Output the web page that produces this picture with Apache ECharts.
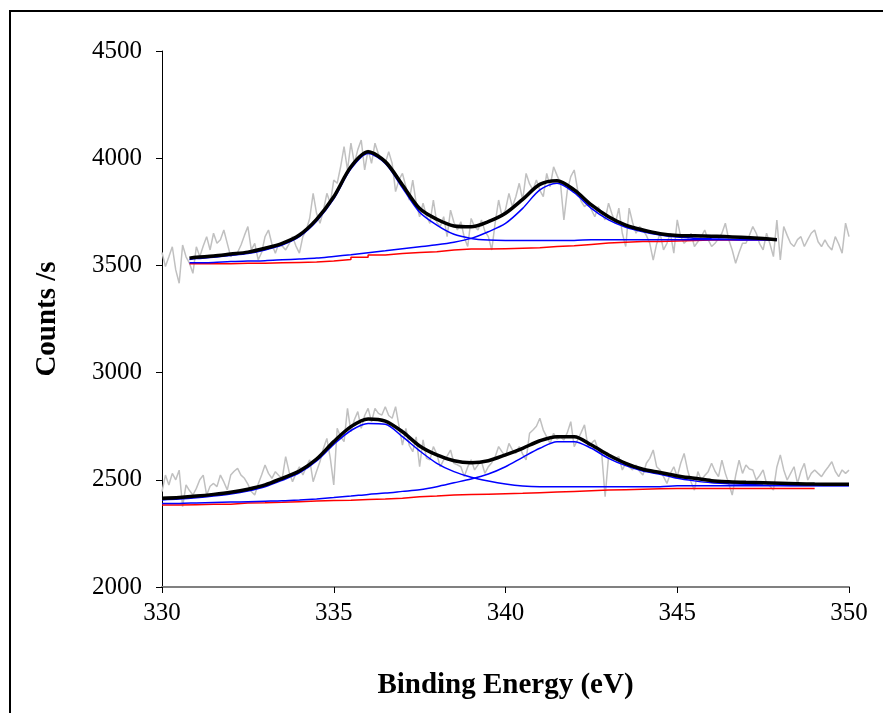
<!DOCTYPE html>
<html>
<head>
<meta charset="utf-8">
<script src="https://cdn.jsdelivr.net/npm/echarts@6/dist/echarts.min.js"></script>
<style>
  html, body { margin: 0; padding: 0; background: #fff; }
  #chart { width: 883px; height: 713px; }
</style>
</head>
<body>
<div id="chart"></div>
<script>
// Binding energy axis ticks (eV) and count axis ticks
const energyTicks = [330, 335, 340, 345, 350];
const countTicks = [2000, 2500, 3000, 3500, 4000, 4500];

// Raw spectra, one channel every 0.1 eV from 330.0 to 350.0 eV
const rawStart = 330.0;
const rawStep = 0.1;
const topRaw = [
  3560,3495,3540,3587,3479,3417,3595,3540,3510,3463,
  3587,3541,3590,3634,3572,3650,3603,3620,3665,3603,
  3541,3557,3560,3595,3640,3681,3572,3603,3526,3560,
  3634,3665,3600,3557,3603,3590,3572,3600,3634,3590,
  3557,3634,3665,3720,3836,3743,3696,3758,3836,3790,
  3898,3883,3960,4054,3945,4070,3976,4040,4085,3945,
  4039,3976,4070,4020,3991,3976,4030,3976,3844,3900,
  3929,3867,3805,3898,3790,3727,3790,3730,3696,3805,
  3700,3681,3727,3634,3758,3700,3665,3704,3630,3588,
  3719,3680,3665,3712,3660,3634,3572,3700,3805,3727,
  3760,3836,3774,3820,3883,3805,3929,3880,3852,3898,
  3850,3821,3929,3867,3960,3920,3883,3712,3850,3914,
  3945,3852,3800,3774,3790,3760,3727,3774,3740,3712,
  3790,3740,3696,3767,3650,3588,3767,3700,3650,3681,
  3665,3640,3603,3525,3600,3650,3572,3603,3650,3557,
  3712,3634,3603,3620,3650,3588,3610,3634,3665,3620,
  3588,3603,3625,3650,3697,3620,3572,3510,3560,3603,
  3603,3640,3681,3650,3600,3572,3650,3600,3541,3712,
  3525,3681,3640,3603,3588,3620,3634,3588,3620,3650,
  3665,3610,3588,3619,3590,3572,3634,3600,3557,3697,
  3634
];
const bottomRaw = [
  2445,2522,2476,2530,2500,2545,2375,2476,2450,2429,
  2460,2500,2522,2429,2470,2483,2468,2522,2490,2453,
  2522,2540,2553,2522,2507,2480,2445,2429,2480,2522,
  2569,2530,2507,2538,2520,2507,2608,2538,2491,2530,
  2561,2522,2560,2593,2491,2540,2585,2647,2693,2600,
  2476,2740,2700,2678,2833,2724,2780,2818,2740,2800,
  2833,2771,2833,2810,2802,2841,2800,2787,2841,2750,
  2662,2740,2660,2631,2700,2561,2686,2600,2593,2655,
  2620,2561,2593,2610,2639,2577,2570,2561,2515,2560,
  2593,2546,2570,2585,2530,2561,2580,2608,2655,2630,
  2608,2670,2640,2624,2655,2620,2593,2717,2732,2750,
  2787,2732,2700,2670,2717,2690,2700,2686,2720,2771,
  2655,2686,2720,2756,2655,2670,2686,2639,2624,2421,
  2608,2593,2600,2608,2546,2577,2560,2546,2569,2540,
  2522,2577,2600,2639,2561,2546,2515,2483,2530,2561,
  2515,2577,2623,2546,2490,2452,2538,2499,2520,2538,
  2577,2540,2515,2592,2530,2483,2429,2520,2592,2530,
  2569,2550,2546,2499,2520,2546,2483,2470,2452,2560,
  2616,2546,2499,2530,2561,2483,2540,2577,2499,2530,
  2546,2530,2515,2540,2561,2584,2540,2515,2546,2530,
  2545
];

// Fitted curves of the upper spectrum
const topFitEnergy = [330.8, 331, 331.5, 332, 332.5, 333, 333.5, 334, 334.5, 335, 335.5, 336,
  336.5, 337, 337.5, 338, 338.5, 339, 339.5, 340, 340.5, 341, 341.5, 342, 342.5, 343, 343.5,
  344, 344.5, 345, 345.5, 346, 346.5, 347, 347.5, 347.9];
const topEnvelope = [3534,3538,3544,3553,3562,3580,3603,3642,3715,3820,3960,4030,3984,3875,3765,
  3715,3684,3680,3704,3743,3808,3878,3895,3852,3782,3727,3688,3665,3648,3640,3638,3636,3634,
  3630,3625,3620];
const topPeak1 = [3528,3532,3538,3546,3555,3572,3595,3634,3706,3810,3950,4022,3975,3862,3748,
  3688,3645,3626,3618,3616,3616,3616,3616,3616,3620,3620,3620,3620,3620,3620,3620,3620,3620,
  3620,3620,3620];
const topPeak2 = [3512,3512,3514,3518,3520,3522,3526,3530,3534,3542,3550,3559,3568,3578,3587,
  3596,3608,3626,3657,3696,3766,3852,3883,3839,3766,3712,3678,3657,3642,3632,3627,3624,3622,
  3620,3620,3620];
const topBackground = [3508,3508,3508,3510,3510,3512,3514,3516,3520,3528,3538,3548,3555,3560,
  3564,3572,3576,3576,3578,3580,3582,3588,3592,3598,3604,3608,3611,3612,3614,3616,3618,3618,
  3618,3618,3618,3618];

// Fitted curves of the lower spectrum
const bottomFitEnergy = [330, 330.5, 331, 331.5, 332, 332.5, 333, 333.5, 334, 334.5, 335, 335.5,
  336, 336.5, 337, 337.5, 338, 338.5, 339, 339.5, 340, 340.5, 341, 341.5, 342, 342.5, 343,
  343.5, 344, 344.5, 345, 345.5, 346, 346.5, 347, 347.5, 348, 348.5, 349, 349.5, 350];
const bottomEnvelope = [2414,2418,2424,2432,2442,2456,2476,2507,2541,2597,2678,2748,2784,2774,
  2724,2658,2616,2589,2580,2589,2616,2647,2682,2701,2701,2662,2616,2577,2549,2534,2518,2507,
  2496,2491,2488,2486,2484,2482,2480,2479,2479];
const bottomPeak1 = [2406,2410,2416,2424,2434,2448,2468,2498,2532,2588,2665,2730,2763,2759,2701,
  2635,2577,2538,2512,2494,2480,2471,2468,2468,2468,2468,2468,2468,2468,2468,2472,2472,2472,
  2472,2472,2472,2472,2472,2472,2472,2472];
const bottomPeak2 = [2390,2390,2392,2394,2396,2398,2400,2402,2406,2411,2417,2424,2432,2438,2446,
  2454,2468,2486,2504,2527,2561,2605,2647,2678,2678,2647,2600,2566,2541,2526,2507,2495,2486,
  2482,2479,2476,2474,2473,2473,2473,2473];
const bottomBackground = [2382,2384,2386,2386,2392,2393,2395,2398,2401,2403,2405,2408,2410,2414,
  2421,2424,2429,2431,2433,2435,2437,2440,2443,2446,2449,2452,2454,2456,2458,2460,2460,2460,
  2460,2460,2460,2460,2460,2460,2460];

// Pair an energy list with a value list
function pairs(energies, values) {
  const out = [];
  for (let i = 0; i < values.length; i++) out.push([energies[i], values[i]]);
  return out;
}
function rawPairs(values) {
  return values.map((v, i) => [Math.round((rawStart + i * rawStep) * 10) / 10, v]);
}

const serif = '"Liberation Serif", "Times New Roman", serif';
const GREY = '#c0c0c0', BLUE = '#0000ff', RED = '#ff0000', BLACK = '#000000';

function lineSeries(name, data, color, width, extra) {
  return Object.assign({
    name: name,
    type: 'line',
    data: data,
    showSymbol: false,
    symbol: 'none',
    lineStyle: { color: color, width: width },
    itemStyle: { color: color },
    emphasis: { disabled: true },
    animation: false
  }, extra || {});
}

const chart = echarts.init(document.getElementById('chart'), null, { renderer: 'canvas' });

chart.setOption({
  backgroundColor: '#ffffff',
  animation: false,
  grid: { left: 162, right: 34, top: 51, bottom: 126, containLabel: false },
  xAxis: {
    type: 'value',
    min: energyTicks[0],
    max: energyTicks[energyTicks.length - 1],
    interval: 5,
    name: 'Binding Energy (eV)',
    nameLocation: 'middle',
    nameGap: 84,
    nameTextStyle: { fontFamily: serif, fontSize: 29, fontWeight: 'bold', color: '#000' },
    axisLine: { show: true, onZero: false, lineStyle: { color: '#808080', width: 2 } },
    axisTick: { show: true, inside: false, length: 6, lineStyle: { color: '#000', width: 1 } },
    axisLabel: { fontFamily: serif, fontSize: 25, color: '#000', margin: 14,
      formatter: v => String(v) },
    splitLine: { show: false }
  },
  yAxis: {
    type: 'value',
    min: countTicks[0],
    max: countTicks[countTicks.length - 1],
    interval: 500,
    name: 'Counts /s',
    nameLocation: 'middle',
    nameGap: 100,
    nameRotate: 90,
    nameTextStyle: { fontFamily: serif, fontSize: 29, fontWeight: 'bold', color: '#000' },
    axisLine: { show: true, lineStyle: { color: '#000', width: 1 } },
    axisTick: { show: true, inside: false, length: 6, lineStyle: { color: '#000', width: 1 } },
    axisLabel: { fontFamily: serif, fontSize: 25, color: '#000', margin: 20,
      formatter: v => String(v) },
    splitLine: { show: false }
  },
  graphic: [{
    type: 'rect',
    shape: { x: 10, y: 11, width: 900, height: 800 },
    style: { fill: null, stroke: '#000', lineWidth: 2 },
    silent: true,
    z: 100
  }],
  series: [
    lineSeries('Raw upper', rawPairs(topRaw), GREY, 1.5, { z: 1 }),
    lineSeries('Raw lower', rawPairs(bottomRaw), GREY, 1.5, { z: 1 }),
    lineSeries('Background upper', pairs(topFitEnergy, topBackground), RED, 1.5, { step: 'end', z: 2 }),
    lineSeries('Background lower', pairs(bottomFitEnergy, bottomBackground), RED, 1.5, { step: 'end', z: 2 }),
    lineSeries('Peak 2 upper', pairs(topFitEnergy, topPeak2), BLUE, 1.5, { smooth: 0.3, z: 3 }),
    lineSeries('Peak 1 upper', pairs(topFitEnergy, topPeak1), BLUE, 1.5, { smooth: 0.3, z: 3 }),
    lineSeries('Peak 2 lower', pairs(bottomFitEnergy, bottomPeak2), BLUE, 1.5, { smooth: 0.3, z: 3 }),
    lineSeries('Peak 1 lower', pairs(bottomFitEnergy, bottomPeak1), BLUE, 1.5, { smooth: 0.3, z: 3 }),
    lineSeries('Envelope upper', pairs(topFitEnergy, topEnvelope), BLACK, 3.5, { smooth: 0.3, z: 4 }),
    lineSeries('Envelope lower', pairs(bottomFitEnergy, bottomEnvelope), BLACK, 3.5, { smooth: 0.3, z: 4 })
  ]
});
</script>
</body>
</html>
